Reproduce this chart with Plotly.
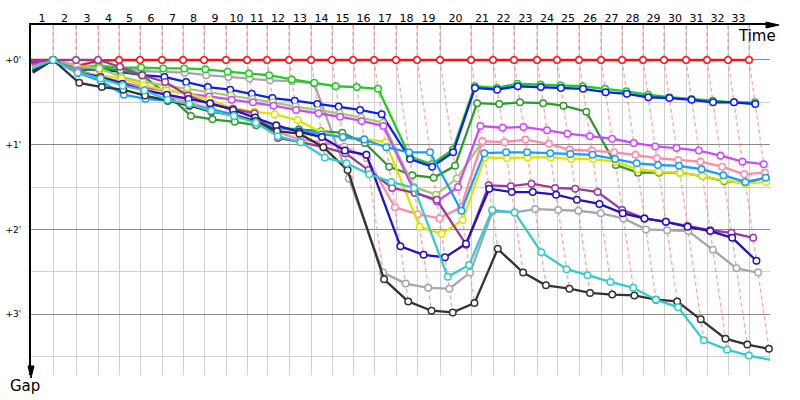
import plotly.graph_objects as go

# ---------------- data ----------------
LAP_NUMBERS = list(range(1, 34))
LAP_LABELS = [str(n) for n in LAP_NUMBERS]
# leader lap times (seconds), laps 1..33
LEADER_LAP_S = [110, 115, 110, 105, 105, 110, 105, 105, 110, 105, 100, 110, 110, 105, 105,
                105, 110, 105, 115, 155, 110, 105, 115, 100, 110, 110, 105, 105, 105, 110,
                105, 105, 105]
GAP_TICKS = [0, 1, 2, 3]
GAP_LABELS = ["+0'", "+1'", "+2'", "+3'"]
GAP_MINOR = [0.5, 1.5, 2.5, 3.5]

# gaps to leader (minutes), index = lap 0..last lap of each driver
GAP_RED = [0.00, 0.00, 0.07, 0.01, 0.00, 0.00, 0.00, 0.00, 0.00, 0.00, 0.00, 0.00, 0.00, 0.00,
           0.00, 0.00, 0.00, 0.00, 0.00, 0.00, 0.00, 0.00, 0.00, 0.00, 0.00, 0.00, 0.00, 0.00,
           0.00, 0.00, 0.00, 0.00, 0.00, 0.00]
GAP_GRAY = [0.10, 0.00, 0.10, 0.06, 0.09, 0.13, 0.14, 0.15, 0.18, 0.20, 0.22, 0.24, 0.25, 0.28,
            1.40, 2.51, 2.64, 2.69, 2.70, 2.51, 1.79, 1.80, 1.76, 1.77, 1.78, 1.81, 1.87, 2.00,
            2.01, 2.02, 2.24, 2.46, 2.51]
GAP_GREEN = [0.05, 0.00, 0.08, 0.08, 0.09, 0.09, 0.10, 0.10, 0.11, 0.14, 0.16, 0.18, 0.23, 0.27,
             0.31, 0.32, 0.34, 1.14, 1.23, 1.06, 0.31, 0.33, 0.28, 0.29, 0.30, 0.31, 0.34, 0.37,
             0.41, 0.44, 0.46, 0.48, 0.50, 0.50]
GAP_BLUE = [0.03, 0.00, 0.12, 0.11, 0.14, 0.18, 0.20, 0.26, 0.32, 0.35, 0.40, 0.45, 0.48, 0.52,
            0.55, 0.59, 0.64, 1.17, 1.26, 1.09, 0.33, 0.35, 0.31, 0.32, 0.33, 0.34, 0.38, 0.40,
            0.44, 0.45, 0.47, 0.50, 0.50, 0.52]
GAP_DARKGREEN = [0.14, 0.00, 0.12, 0.10, 0.12, 0.18, 0.40, 0.66, 0.70, 0.73, 0.77, 0.80, 0.82,
                 0.84, 0.86, 0.98, 1.26, 1.36, 1.39, 1.25, 0.51, 0.52, 0.50, 0.51, 0.54, 0.61,
                 1.24, 1.33, 1.33, 1.33, 1.37, 1.43, 1.45, 1.39]
GAP_OLIVE = [0.08, 0.00, 0.07, 0.10, 0.20, 0.26, 0.30, 0.34, 0.38, 0.42, 0.46, 0.50, 0.55, 0.59,
             0.63, 0.68, 0.74, 1.50, 1.59, 1.40, 0.96]
GAP_MAGENTA = [0.06, 0.00, 0.12, 0.20, 0.26, 0.33, 0.36, 0.40, 0.43, 0.47, 0.50, 0.54, 0.59, 0.63,
               0.67, 0.72, 0.78, 1.56, 1.67, 1.50, 0.78, 0.80, 0.79, 0.83, 0.87, 0.90, 0.93, 0.98,
               1.02, 1.04, 1.07, 1.13, 1.20, 1.23]
GAP_PINK = [0.12, 0.00, 0.14, 0.22, 0.28, 0.34, 0.42, 0.50, 0.58, 0.64, 0.72, 0.85, 0.94, 0.97,
            1.02, 1.16, 1.74, 1.82, 1.87, 1.74, 0.96, 0.97, 0.94, 0.99, 1.06, 1.07, 1.09, 1.12,
            1.16, 1.18, 1.20, 1.26, 1.35, 1.33]
GAP_YELLOW = [0.09, 0.00, 0.15, 0.18, 0.22, 0.30, 0.36, 0.40, 0.47, 0.57, 0.61, 0.64, 0.71, 0.85,
              0.92, 0.93, 0.97, 1.97, 2.05, 1.89, 1.15, 1.16, 1.15, 1.15, 1.17, 1.17, 1.20, 1.29,
              1.32, 1.33, 1.37, 1.42, 1.46, 1.44]
GAP_LIGHTBLUE = [0.11, 0.00, 0.15, 0.25, 0.41, 0.46, 0.48, 0.53, 0.58, 0.65, 0.72, 0.80, 0.84,
                 0.88, 0.91, 0.94, 1.03, 1.09, 1.09, 1.78, 1.10, 1.09, 1.09, 1.10, 1.11, 1.12,
                 1.17, 1.22, 1.24, 1.25, 1.29, 1.36, 1.44, 1.39]
GAP_PURPLE = [0.02, 0.00, 0.00, 0.00, 0.08, 0.18, 0.26, 0.42, 0.52, 0.58, 0.63, 0.92, 0.97, 1.03,
              1.10, 1.30, 1.51, 1.57, 1.65, 2.18, 1.48, 1.49, 1.46, 1.51, 1.52, 1.56, 1.77, 1.87,
              1.91, 1.96, 2.01, 2.04, 2.10]
GAP_INDIGO = [0.13, 0.00, 0.15, 0.20, 0.28, 0.36, 0.41, 0.46, 0.51, 0.59, 0.68, 0.77, 0.85, 0.91,
              1.07, 1.12, 2.20, 2.30, 2.33, 2.17, 1.52, 1.56, 1.56, 1.59, 1.65, 1.70, 1.81, 1.87,
              1.91, 1.97, 2.02, 2.10, 2.37]
GAP_BLACK = [0.15, 0.00, 0.27, 0.32, 0.35, 0.42, 0.48, 0.54, 0.61, 0.65, 0.72, 0.84, 0.87, 1.03,
             1.30, 2.59, 2.85, 2.96, 2.98, 2.87, 2.23, 2.51, 2.66, 2.70, 2.75, 2.77, 2.78, 2.83,
             2.85, 3.06, 3.29, 3.36, 3.41]
GAP_CYAN = [0.10, 0.00, 0.15, 0.22, 0.30, 0.36, 0.47, 0.52, 0.60, 0.66, 0.74, 0.90, 0.97, 1.15,
            1.22, 1.35, 1.44, 1.51, 2.56, 2.42, 1.77, 1.80, 2.27, 2.47, 2.54, 2.62, 2.69, 2.83,
            2.92, 3.31, 3.42, 3.49, 3.54]

DRIVER_GAPS = [GAP_RED, GAP_GRAY, GAP_GREEN, GAP_BLUE, GAP_DARKGREEN, GAP_OLIVE, GAP_MAGENTA,
               GAP_PINK, GAP_YELLOW, GAP_LIGHTBLUE, GAP_PURPLE, GAP_INDIGO, GAP_BLACK, GAP_CYAN]
DRIVER_COLORS = ["#ff1010", "#a6a6a6", "#1fcc1f", "#0a1ef5", "#2f9a2f", "#a8c86e", "#c84cff",
                 "#ff8aa8", "#e2e200", "#1a9cff", "#9b3a9b", "#2412c0", "#333333", "#33cccc"]

# ---------------- derived scales ----------------
LEADER_T = [0]
for s in LEADER_LAP_S:
    LEADER_T.append(LEADER_T[-1] + s)
X_MAX = 3695
Y_TOP, Y_BOTTOM = -0.413, 3.719


def driver_x(gaps):
    return [LEADER_T[j] + g * 60 for j, g in enumerate(gaps)]


fig = go.Figure()

# lap lines (dashed), through every driver's point of that lap, ordered by gap
lx, ly = [], []
for k in range(1, len(LEADER_T)):
    pts = [(LEADER_T[k] + gaps[k] * 60, gaps[k]) for gaps in DRIVER_GAPS if len(gaps) > k]
    pts.sort(key=lambda p: p[1])
    lx.append(LEADER_T[k]); ly.append(Y_TOP)
    for px, py in pts:
        lx.append(px); ly.append(py)
    lx.append(None); ly.append(None)
fig.add_trace(go.Scatter(x=lx, y=ly, mode="lines", hoverinfo="skip", showlegend=False,
                         line=dict(color="rgba(255,100,100,0.6)", width=1.3, dash="4px,3px")))

for gaps, col in zip(DRIVER_GAPS, DRIVER_COLORS):
    op = [0] + [1] * (len(gaps) - 1)
    fig.add_trace(go.Scatter(
        x=driver_x(gaps), y=gaps, mode="lines+markers", showlegend=False, cliponaxis=False,
        line=dict(color=col, width=2.3),
        marker=dict(symbol="circle", size=6.5, color="white", opacity=op,
                    line=dict(color=col, width=1.5))))

# arrowheads in paper coordinates (plot area: x 31..770, y 25..375 px)
def px_x(p):
    return (p - 31) / 739.0


def px_y(p):
    return (375 - p) / 350.0


arrow_right = "M {},{} L {},{} L {},{} Z".format(px_x(779), px_y(25), px_x(766), px_y(22),
                                                px_x(766), px_y(28))
arrow_down = "M {},{} L {},{} L {},{} Z".format(px_x(31), px_y(378), px_x(28), px_y(366),
                                               px_x(34), px_y(366))
shapes = [
    dict(type="line", xref="paper", yref="paper", x0=1.0, x1=px_x(767), y0=1.0, y1=1.0,
         line=dict(color="black", width=2)),
    dict(type="path", xref="paper", yref="paper", path=arrow_right, fillcolor="black",
         line=dict(color="black", width=1)),
    dict(type="path", xref="paper", yref="paper", path=arrow_down, fillcolor="black",
         line=dict(color="black", width=1)),
]

annotations = [
    dict(text="Time", xref="paper", yref="paper", x=px_x(778), y=px_y(36), xanchor="right",
         yanchor="middle", showarrow=False, font=dict(family="DejaVu Sans", size=15, color="black")),
    dict(text="Gap", xref="paper", yref="paper", x=px_x(25), y=px_y(386), xanchor="center",
         yanchor="middle", showarrow=False, font=dict(family="DejaVu Sans", size=15, color="black")),
]

mid_ticks = [(LEADER_T[k - 1] + LEADER_T[k]) / 2 for k in LAP_NUMBERS]

fig.update_layout(
    width=800, height=400, margin=dict(l=31, r=30, t=25, b=25, autoexpand=False),
    paper_bgcolor="white", plot_bgcolor="white",
    shapes=shapes, annotations=annotations,
    xaxis=dict(range=[0, X_MAX], side="top", tickmode="array", tickvals=mid_ticks,
               ticktext=LAP_LABELS, showgrid=False, zeroline=False, showline=True,
               linecolor="black", linewidth=2, ticks="", ticklabelstandoff=-3, automargin=False,
               tickfont=dict(family="DejaVu Sans", size=11, color="black"),
               minor=dict(tickmode="array", tickvals=LEADER_T[1:], showgrid=True,
                          gridcolor="#cfcfcf", gridwidth=1, ticks="")),
    yaxis=dict(range=[Y_BOTTOM, Y_TOP], tickmode="array", tickvals=GAP_TICKS,
               ticktext=GAP_LABELS, showgrid=True, gridcolor="#8a8a8a", gridwidth=1,
               zeroline=False, showline=True, linecolor="black", linewidth=2, ticks="",
               ticklabelstandoff=6, automargin=False,
               tickfont=dict(family="DejaVu Sans", size=9, color="black"),
               minor=dict(tickmode="array", tickvals=GAP_MINOR, showgrid=True,
                          gridcolor="#cfcfcf", gridwidth=1, ticks="")),
)

fig.write_html("out.html")
